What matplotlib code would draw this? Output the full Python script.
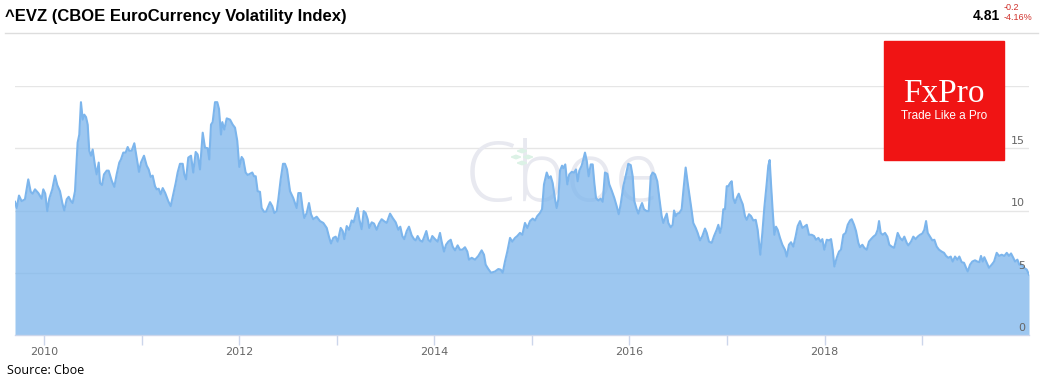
import numpy as np
import matplotlib
matplotlib.use("Agg")
from matplotlib import pyplot as plt
from matplotlib import transforms
from matplotlib.patches import Rectangle, RegularPolygon
from matplotlib.lines import Line2D

# EVZ weekly-ish readings, date as decimal year
years = [
    2009.703, 2009.720, 2009.744, 2009.771, 2009.805, 2009.839, 2009.864, 2009.884, 2009.908, 2009.942,
    2009.976, 2009.993, 2010.013, 2010.034, 2010.054, 2010.085, 2010.113, 2010.136, 2010.164, 2010.188,
    2010.208, 2010.233, 2010.253, 2010.277, 2010.294, 2010.318, 2010.335, 2010.345, 2010.362, 2010.379,
    2010.397, 2010.413, 2010.431, 2010.448, 2010.464, 2010.482, 2010.499, 2010.523, 2010.540, 2010.561,
    2010.574, 2010.595, 2010.615, 2010.643, 2010.663, 2010.694, 2010.721, 2010.745, 2010.772, 2010.789,
    2010.813, 2010.837, 2010.858, 2010.874, 2010.899, 2010.926, 2010.950, 2010.974, 2010.994, 2011.025,
    2011.053, 2011.073, 2011.094, 2011.114, 2011.138, 2011.155, 2011.176, 2011.196, 2011.217, 2011.243,
    2011.274, 2011.299, 2011.325, 2011.350, 2011.370, 2011.394, 2011.422, 2011.438, 2011.456, 2011.479,
    2011.507, 2011.530, 2011.555, 2011.575, 2011.599, 2011.627, 2011.650, 2011.678, 2011.694, 2011.712,
    2011.729, 2011.753, 2011.776, 2011.794, 2011.814, 2011.828, 2011.848, 2011.873, 2011.907, 2011.934,
    2011.958, 2011.981, 2012.002, 2012.026, 2012.043, 2012.067, 2012.088, 2012.112, 2012.135, 2012.153,
    2012.170, 2012.190, 2012.214, 2012.231, 2012.255, 2012.276, 2012.317, 2012.340, 2012.361, 2012.385,
    2012.402, 2012.426, 2012.450, 2012.470, 2012.491, 2012.522, 2012.555, 2012.590, 2012.607, 2012.631,
    2012.652, 2012.668, 2012.693, 2012.716, 2012.737, 2012.760, 2012.795, 2012.829, 2012.863, 2012.898,
    2012.921, 2012.942, 2012.965, 2012.990, 2013.010, 2013.041, 2013.062, 2013.078, 2013.103, 2013.126,
    2013.154, 2013.174, 2013.195, 2013.215, 2013.232, 2013.256, 2013.277, 2013.297, 2013.318, 2013.334,
    2013.359, 2013.383, 2013.410, 2013.434, 2013.461, 2013.485, 2013.513, 2013.547, 2013.574, 2013.605,
    2013.632, 2013.652, 2013.673, 2013.693, 2013.718, 2013.741, 2013.769, 2013.793, 2013.810, 2013.830,
    2013.854, 2013.878, 2013.898, 2013.919, 2013.939, 2013.960, 2013.980, 2014.008, 2014.035, 2014.059,
    2014.076, 2014.100, 2014.121, 2014.144, 2014.169, 2014.189, 2014.213, 2014.240, 2014.264, 2014.288,
    2014.315, 2014.339, 2014.356, 2014.384, 2014.418, 2014.452, 2014.486, 2014.510, 2014.527, 2014.554,
    2014.582, 2014.623, 2014.657, 2014.681, 2014.702, 2014.725, 2014.749, 2014.777, 2014.800, 2014.828,
    2014.851, 2014.879, 2014.903, 2014.930, 2014.954, 2014.982, 2015.009, 2015.033, 2015.056, 2015.084,
    2015.105, 2015.125, 2015.153, 2015.173, 2015.194, 2015.214, 2015.238, 2015.255, 2015.272, 2015.289,
    2015.310, 2015.323, 2015.343, 2015.364, 2015.384, 2015.409, 2015.433, 2015.453, 2015.470, 2015.487,
    2015.511, 2015.528, 2015.545, 2015.563, 2015.583, 2015.604, 2015.624, 2015.641, 2015.658, 2015.682,
    2015.706, 2015.727, 2015.750, 2015.774, 2015.794, 2015.819, 2015.846, 2015.870, 2015.891, 2015.911,
    2015.938, 2015.966, 2015.989, 2016.014, 2016.034, 2016.051, 2016.075, 2016.092, 2016.109, 2016.130,
    2016.150, 2016.178, 2016.198, 2016.219, 2016.239, 2016.263, 2016.286, 2016.307, 2016.331, 2016.348,
    2016.365, 2016.383, 2016.399, 2016.424, 2016.444, 2016.458, 2016.475, 2016.491, 2016.512, 2016.536,
    2016.553, 2016.577, 2016.598, 2016.622, 2016.639, 2016.655, 2016.680, 2016.700, 2016.724, 2016.748,
    2016.775, 2016.793, 2016.816, 2016.844, 2016.868, 2016.895, 2016.912, 2016.929, 2016.946, 2016.963,
    2016.980, 2016.998, 2017.014, 2017.032, 2017.049, 2017.065, 2017.083, 2017.100, 2017.121, 2017.141,
    2017.162, 2017.185, 2017.203, 2017.226, 2017.247, 2017.270, 2017.295, 2017.315, 2017.332, 2017.342,
    2017.363, 2017.383, 2017.408, 2017.424, 2017.438, 2017.452, 2017.469, 2017.486, 2017.503, 2017.520,
    2017.544, 2017.568, 2017.595, 2017.613, 2017.636, 2017.657, 2017.680, 2017.705, 2017.725, 2017.749,
    2017.773, 2017.793, 2017.818, 2017.841, 2017.869, 2017.893, 2017.913, 2017.937, 2017.961, 2017.978,
    2017.998, 2018.023, 2018.046, 2018.067, 2018.084, 2018.101, 2018.125, 2018.149, 2018.169, 2018.193,
    2018.217, 2018.238, 2018.262, 2018.279, 2018.303, 2018.323, 2018.347, 2018.364, 2018.388, 2018.408,
    2018.433, 2018.456, 2018.477, 2018.501, 2018.525, 2018.545, 2018.559, 2018.576, 2018.597, 2018.620,
    2018.644, 2018.664, 2018.689, 2018.713, 2018.730, 2018.750, 2018.774, 2018.798, 2018.818, 2018.843,
    2018.859, 2018.887, 2018.910, 2018.935, 2018.955, 2018.979, 2019.003, 2019.023, 2019.041, 2019.058,
    2019.082, 2019.105, 2019.126, 2019.150, 2019.174, 2019.201, 2019.225, 2019.246, 2019.269, 2019.294,
    2019.314, 2019.338, 2019.361, 2019.382, 2019.406, 2019.430, 2019.451, 2019.468, 2019.492, 2019.515,
    2019.543, 2019.566, 2019.587, 2019.604, 2019.622, 2019.638, 2019.663, 2019.686, 2019.714, 2019.738,
    2019.765, 2019.789, 2019.816, 2019.843, 2019.868, 2019.891, 2019.912, 2019.935, 2019.953, 2019.977,
    2019.997, 2020.021, 2020.045, 2020.073, 2020.096,
]
evz = [
    10.70, 10.20, 11.20, 10.75, 10.90, 12.50, 11.50, 11.35, 11.70, 11.40,
    10.95, 11.70, 11.35, 9.95, 10.95, 11.70, 12.80, 12.05, 11.55, 10.60,
    10.00, 10.90, 11.10, 10.75, 10.60, 11.55, 14.00, 15.45, 16.10, 18.70,
    17.30, 17.70, 17.50, 16.90, 14.80, 14.40, 14.90, 13.60, 12.90, 13.85,
    12.20, 12.05, 12.90, 13.20, 13.20, 12.40, 11.90, 12.90, 13.85, 14.10,
    14.65, 14.65, 15.10, 14.80, 14.80, 15.40, 14.25, 13.10, 13.85, 14.40,
    13.60, 13.30, 12.70, 12.80, 11.95, 11.70, 11.75, 11.30, 11.80, 11.40,
    10.75, 10.35, 11.30, 12.20, 13.05, 13.75, 13.75, 12.90, 12.50, 14.25,
    14.40, 13.05, 14.70, 14.50, 13.30, 16.25, 15.05, 15.00, 14.10, 16.90,
    17.10, 18.70, 18.70, 18.15, 16.10, 17.10, 16.50, 17.40, 17.30, 16.90,
    16.65, 15.60, 13.50, 14.30, 14.10, 13.05, 12.85, 12.95, 13.05, 12.75,
    12.75, 11.55, 11.50, 10.20, 9.90, 9.90, 10.67, 10.35, 9.80, 9.95,
    10.90, 12.50, 13.75, 13.75, 13.30, 11.55, 11.00, 10.20, 11.40, 11.40,
    10.10, 9.40, 9.80, 10.60, 9.70, 9.30, 9.50, 9.15, 9.00, 8.60,
    7.90, 7.35, 7.80, 7.90, 7.50, 8.60, 8.35, 7.70, 8.75, 8.45,
    9.20, 9.05, 9.70, 10.20, 9.30, 8.50, 9.95, 9.80, 9.30, 8.60,
    9.05, 8.95, 8.45, 8.95, 9.30, 9.15, 9.00, 9.75, 9.40, 9.05,
    8.45, 8.70, 7.95, 7.70, 8.35, 8.70, 8.00, 7.70, 7.60, 7.95,
    7.60, 7.50, 7.90, 8.35, 7.65, 7.50, 7.95, 7.70, 7.50, 8.20,
    7.50, 6.70, 7.25, 7.50, 7.65, 7.10, 6.80, 7.20, 6.85, 6.85,
    7.05, 6.70, 6.05, 6.20, 6.05, 6.35, 6.80, 6.45, 5.65, 5.30,
    5.00, 5.10, 5.30, 5.25, 5.00, 5.90, 6.70, 7.80, 7.50, 7.80,
    7.95, 8.20, 8.05, 9.00, 8.60, 9.15, 9.35, 9.20, 9.55, 9.80,
    10.10, 12.10, 13.05, 12.60, 12.75, 12.20, 10.90, 10.20, 10.90, 13.20,
    13.60, 13.40, 13.70, 12.10, 12.90, 13.10, 13.05, 13.30, 12.35, 13.20,
    13.60, 14.10, 14.65, 14.00, 12.75, 13.70, 13.70, 12.20, 11.00, 10.80,
    10.95, 10.70, 13.05, 12.95, 12.10, 11.60, 11.00, 10.35, 9.70, 10.50,
    11.95, 12.90, 13.75, 13.65, 12.75, 10.75, 10.10, 9.75, 10.20, 10.60,
    10.10, 9.95, 9.95, 12.75, 13.05, 12.90, 12.35, 11.00, 9.55, 9.00,
    9.40, 9.75, 9.00, 8.65, 8.85, 10.00, 9.55, 9.75, 9.80, 10.10,
    11.55, 13.45, 12.20, 10.90, 9.95, 9.00, 8.60, 8.20, 7.60, 7.95,
    8.55, 8.20, 7.50, 7.40, 7.95, 8.45, 8.85, 8.20, 8.75, 10.10,
    10.10, 11.95, 11.95, 12.20, 12.35, 11.00, 10.60, 11.00, 11.35, 10.90,
    10.50, 9.55, 9.25, 9.70, 9.55, 9.20, 9.25, 8.45, 7.20, 6.45,
    8.20, 10.20, 12.20, 13.60, 14.05, 12.10, 9.95, 8.05, 8.70, 8.45,
    7.80, 7.25, 6.85, 6.30, 7.25, 7.45, 7.10, 7.95, 8.75, 9.15,
    8.60, 8.70, 8.85, 8.05, 8.05, 7.95, 7.65, 7.80, 7.50, 7.70,
    6.85, 7.65, 7.60, 7.70, 6.85, 5.50, 6.20, 6.70, 6.85, 8.05,
    8.20, 8.85, 9.20, 9.30, 8.85, 8.35, 7.40, 7.05, 7.25, 7.00,
    6.85, 7.50, 7.70, 7.90, 8.05, 8.45, 9.15, 8.20, 8.05, 8.20,
    7.90, 7.25, 7.10, 7.00, 7.50, 8.20, 7.80, 7.60, 7.90, 7.40,
    7.20, 7.50, 7.90, 7.70, 7.90, 8.05, 8.15, 8.45, 9.15, 8.20,
    7.90, 7.60, 7.65, 7.10, 6.85, 6.70, 6.60, 6.35, 6.20, 6.30,
    5.90, 6.30, 6.05, 6.30, 5.85, 5.80, 5.40, 5.10, 5.65, 5.90,
    6.00, 5.90, 5.85, 6.35, 5.90, 6.25, 5.80, 5.40, 5.65, 5.90,
    6.60, 6.35, 6.45, 6.35, 6.60, 6.35, 6.55, 6.20, 5.90, 6.05,
    5.65, 5.65, 5.40, 5.25, 4.85,
]

year_ticks = list(range(2010, 2020))
year_labels = [str(y) if y % 2 == 0 else "" for y in year_ticks]
value_ticks = [0, 5, 10, 15, 20]
value_labels = ["0", "5", "10", "15"]

title = "^EVZ (CBOE EuroCurrency Volatility Index)"
last_value = "4.81"
last_change = "-0.2"
last_change_pct = "-4.16%"
source = "Source: Cboe"

W, H = 1044, 391
line_c = "#7cb5ec"
grid_c = "#e6e6e6"
axis_c = "#ccd6eb"
label_c = "#666666"


def fx(x):
    return x / W


def fy(y):
    return 1 - y / H


fig = plt.figure(figsize=(W / 100, H / 100), dpi=100)
fig.patch.set_facecolor("white")
ax = fig.add_axes([fx(15), fy(335), fx(1029) - fx(15), fy(86) - fy(335)])

ax.fill_between(years, evz, 0, color=line_c, alpha=0.75, linewidth=0, zorder=2)
ax.plot(years, evz, color=line_c, linewidth=1.5, zorder=3)

ax.set_xlim(years[0], years[-1])
ax.set_ylim(0, 20)
ax.set_yticks(value_ticks)
ax.tick_params(axis="y", left=False, labelleft=False)
ax.grid(axis="y", color=grid_c, linewidth=1, zorder=0)
ax.set_axisbelow(True)
ax.set_xticks(year_ticks)
ax.set_xticklabels(year_labels, fontsize=8, color=label_c)
ax.tick_params(axis="x", direction="out", length=7.5, width=1, color=axis_c, pad=1)
for s in ["top", "left", "right"]:
    ax.spines[s].set_visible(False)
ax.spines["bottom"].set_color(axis_c)
ax.spines["bottom"].set_linewidth(1)

# y labels sit inside the plot, right aligned just above their grid line
trans = transforms.offset_copy(ax.get_yaxis_transform(), fig=fig, x=-3, y=1.5, units="points")
for v, lab in zip(value_ticks, value_labels):
    ax.text(1.0, v, lab, transform=trans, ha="right", va="bottom",
            fontsize=8, color=label_c, zorder=5)

# Cboe watermark behind the area
ax.text(fx(563), fy(180), "Cboe", transform=fig.transFigure, ha="center", va="center",
        fontsize=60, family="Open Sans", fontweight="light", color="#e8e9f0", zorder=1)
for (px, py) in [(522, 151), (516, 157), (528, 157), (522, 163)]:
    fig.patches.append(RegularPolygon((fx(px), fy(py)), 4, radius=0.0045,
                                      transform=fig.transFigure, color="#dcf2e6", zorder=1))

# header
fig.text(fx(5), fy(16), title, fontsize=12, fontweight="bold", family="Liberation Sans",
         ha="left", va="center")
fig.lines.append(Line2D([fx(5), fx(1038)], [fy(33), fy(33)], color="#dddddd", linewidth=1,
                        transform=fig.transFigure))
fig.text(fx(1000), fy(16), last_value, fontsize=10, fontweight="bold", family="Liberation Sans",
         ha="right", va="center")
fig.text(fx(1004), fy(8), last_change, fontsize=6.5, color="#d0302a", ha="left", va="center",
         family="Liberation Sans")
fig.text(fx(1004), fy(17), last_change_pct, fontsize=6.5, color="#d0302a", ha="left", va="center",
         family="Liberation Sans")

# FxPro badge
fig.patches.append(Rectangle((fx(884), fy(160)), fx(1004) - fx(884), fy(41) - fy(160),
                             transform=fig.transFigure, color="#f01414", zorder=6))
fig.text(fx(944), fy(94), "FxPro", fontsize=24, family="Liberation Serif", color="white",
         ha="center", va="center", zorder=7)
fig.text(fx(944), fy(116), "Trade Like a Pro", fontsize=8.5, family="Liberation Sans", color="white",
         ha="center", va="center", zorder=7)

fig.text(fx(7), fy(370), source, fontsize=9, family="Open Sans", ha="left", va="center")

fig.savefig("out.png", dpi=100)
